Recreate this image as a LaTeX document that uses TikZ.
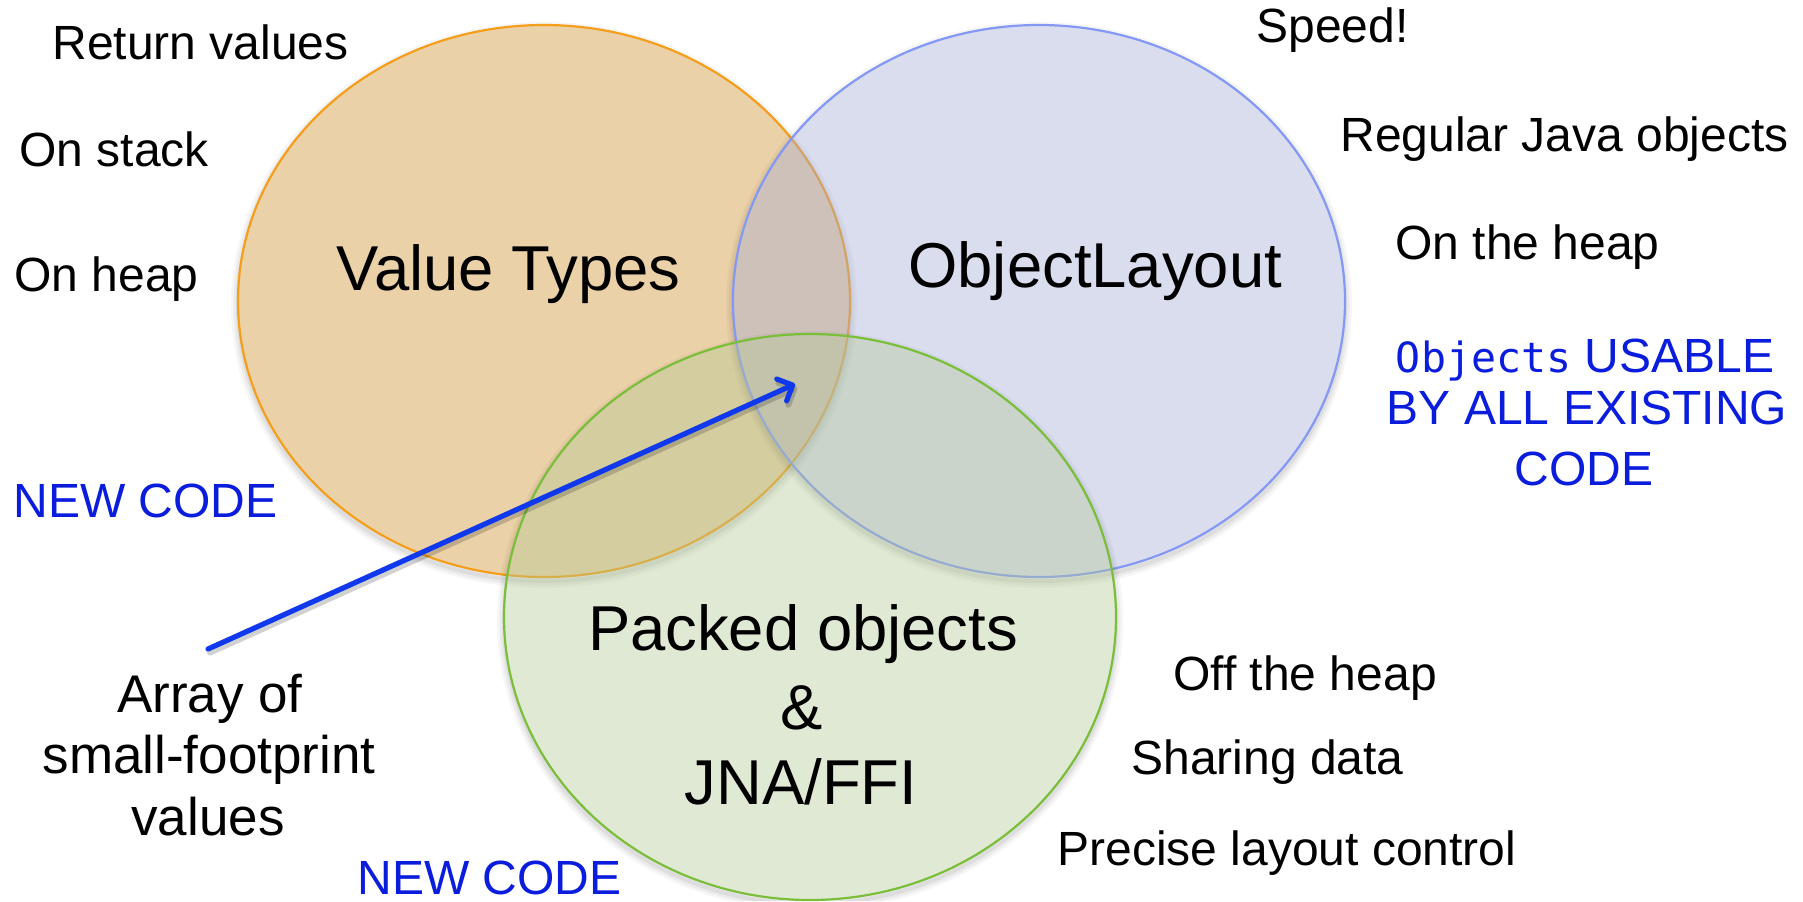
\documentclass[tikz,border=0pt]{standalone}
\usepackage{fontspec}
\setmainfont{Liberation Sans}
\newfontfamily\codefont{DejaVu Sans Mono}
\usetikzlibrary{arrows.meta,shapes.geometric}

% fills are semi-transparent so the overlaps mix
\definecolor{vtfill}{RGB}{205,140,38}
\definecolor{vtline}{RGB}{244,158,28}
\definecolor{olfill}{RGB}{163,170,213}
\definecolor{olline}{RGB}{132,152,246}
\definecolor{pkfill}{RGB}{178,200,148}
\definecolor{pkline}{RGB}{122,190,58}
\definecolor{notecol}{RGB}{10,28,220}
\definecolor{pointercol}{RGB}{16,56,236}

\tikzset{
  setbox/.style={ellipse, inner sep=0pt, line width=1.1pt, fill opacity=0.4},
  small/.style={font=\fontsize{24}{30}\selectfont, inner sep=0pt},
  medium/.style={font=\fontsize{26.5}{32}\selectfont, inner sep=0pt},
  big/.style={font=\fontsize{31.7}{38}\selectfont, inner sep=0pt},
  note/.style={small, text=notecol},
  pointer/.style={line width=2.6pt, pointercol, line cap=round,
    -{Straight Barb[length=6pt, width=12pt, round]}},
  pointershadow/.style={line width=3pt, black, opacity=0.18, line cap=round,
    -{Straight Barb[length=6pt, width=12pt, round]}},
}

% soft drop shadow outside an ellipse: #1 centre (x,y), #2/#3 radii
\newcommand{\ellshadow}[3]{%
  \begin{scope}[even odd rule]
    \clip (0,0) rectangle (1803,901) (#1) ellipse [x radius=#2, y radius=#3];
    \foreach \w/\o in {7pt/0.035,4.5pt/0.045,2pt/0.06}
      \draw[line width=\w, black, opacity=\o] ([yshift=-2pt]#1) ellipse [x radius=#2, y radius=#3];
  \end{scope}}

\begin{document}
\begin{tikzpicture}[x=0.5pt, y=-0.5pt]
  \useasboundingbox (0,0) rectangle (1803,901);
  \fill[white] (0,0) rectangle (1803,901);

  % the three sets
  \ellshadow{544,301}{153pt}{138pt}
  \node[setbox, draw=vtline, fill=vtfill, minimum width=306pt, minimum height=276pt] (vt) at (544,301) {};
  \ellshadow{1039,301}{153pt}{138pt}
  \node[setbox, draw=olline, fill=olfill, minimum width=306pt, minimum height=276pt] (ol) at (1039,301) {};
  \ellshadow{810,617}{153pt}{141.5pt}
  \node[setbox, draw=pkline, fill=pkfill, minimum width=306pt, minimum height=283pt] (pk) at (810,617) {};

  % set names
  \node[big, anchor=base west] (vtname) at (336,290) {Value Types};
  \node[big, anchor=base west] (olname) at (908,287) {ObjectLayout};
  \node[big, anchor=base] (pkname1) at (803,650) {Packed objects};
  \node[big, anchor=base] (pkname2) at (802,729) {\&};
  \node[big, anchor=base] (pkname3) at (801,804) {JNA/FFI};

  % value type properties
  \node[small, anchor=base west] (ret) at (52,59) {Return values};
  \node[small, anchor=base west] (stack) at (19,166) {On stack};
  \node[small, anchor=base west] (vheap) at (14,291) {On heap};
  \node[note, anchor=base west] (newcode1) at (13,517) {NEW CODE};

  % array label and its pointer
  \node[medium, anchor=base] (arr1) at (210,712) {Array of};
  \node[medium, anchor=base] (arr2) at (209,773) {small-footprint};
  \node[medium, anchor=base] (arr3) at (208,835) {values};
  \coordinate (tail) at (208,649);
  \coordinate (tip) at (795,384);
  \draw[pointershadow, transform canvas={shift={(1pt,-1.8pt)}}] (tail) -- (tip);
  \draw[pointer] (tail) -- (tip);

  \node[note, anchor=base west] (newcode2) at (357,894) {NEW CODE};

  % object layout properties
  \node[small, anchor=base west] (speed) at (1256,42) {Speed!};
  \node[small, anchor=base west] (regular) at (1340,151) {Regular Java objects};
  \node[small, anchor=base west] (oheap) at (1395,259) {On the heap};
  \node[note, anchor=base] (usable1) at (1585,372) {{\codefont\fontsize{20.8}{26}\selectfont Objects} USABLE};
  \node[note, anchor=base] (usable2) at (1587,424) {BY ALL EXISTING};
  \node[note, anchor=base] (usable3) at (1584,485) {CODE};

  % packed object properties
  \node[small, anchor=base west] (offheap) at (1173,690) {Off the heap};
  \node[small, anchor=base west] (sharing) at (1131,774) {Sharing data};
  \node[small, anchor=base west] (precise) at (1057,865) {Precise layout control};
\end{tikzpicture}
\end{document}
